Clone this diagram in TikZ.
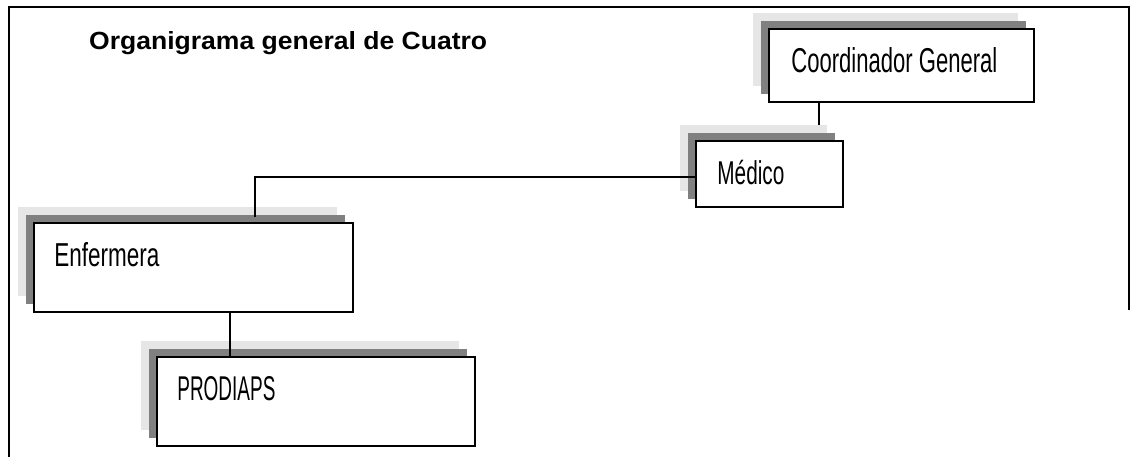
\documentclass[tikz,border=0pt]{standalone}
\usepackage{fontspec}
\usepackage{graphicx}
\setmainfont{Liberation Sans}
\newfontfamily\boxfont[FakeStretch=0.63]{Liberation Sans}
\usetikzlibrary{shadows}
\definecolor{lightsh}{HTML}{E6E6E6}
\definecolor{darksh}{HTML}{808080}
\begin{document}
\begin{tikzpicture}[x=1pt,y=-1pt,
  orgbox/.style={draw=black, line width=1.6pt, fill=white, inner sep=0pt,
    general shadow={shadow xshift=-16pt, shadow yshift=16pt, fill=lightsh},
    general shadow={shadow xshift=-8pt, shadow yshift=8pt, fill=darksh}},
  lbl/.style={font=\boxfont\fontsize{35}{40}\selectfont, inner sep=0pt, anchor=base west},
  conn/.style={draw=black, line width=1.6pt},
  frame/.style={draw=black, line width=1.8pt}]
\useasboundingbox (0,0) rectangle (1130,457);
% frame
\draw[frame] (9,460) -- (9,7) -- (1129,7) -- (1129,310);
% title
\node[inner sep=0pt, anchor=base west] (title) at (89,50)
  {\resizebox{398pt}{18pt}{\bfseries Organigrama general de Cuatro}};
% boxes
\node[orgbox, minimum width=265pt, minimum height=73pt] (coord) at (901.5,65.5) {};
\node[orgbox, minimum width=147pt, minimum height=66pt] (medico) at (769.5,174) {};
\node[orgbox, minimum width=319pt, minimum height=89pt] (enf) at (193.5,267.5) {};
\node[orgbox, minimum width=318pt, minimum height=89pt] (prod) at (316,401.5) {};
% labels
\node[lbl] (coordT) at ([shift={(23pt,-44pt)}]coord.north west) {\resizebox{206pt}{25pt}{Coordinador General}};
\node[lbl] (medicoT) at ([shift={(22pt,-44pt)}]medico.north west) {\resizebox{67pt}{!}{Médico}};
\node[lbl] (enfT) at ([shift={(21pt,-44pt)}]enf.north west) {\resizebox{105pt}{24pt}{Enfermera}};
\node[lbl] (prodT) at ([shift={(21pt,-44pt)}]prod.north west) {\resizebox{98pt}{24pt}{PRODIAPS}};
% connectors
\coordinate (c1) at (819,125);
\coordinate (c2) at (255,217);
\coordinate (c3) at (230,0);
\draw[conn] (coord.south -| c1) -- (c1);
\draw[conn] ([yshift=-3pt]medico.west) -| (c2);
\draw[conn] (enf.south -| c3) -- (prod.north -| c3);
\end{tikzpicture}
\end{document}
